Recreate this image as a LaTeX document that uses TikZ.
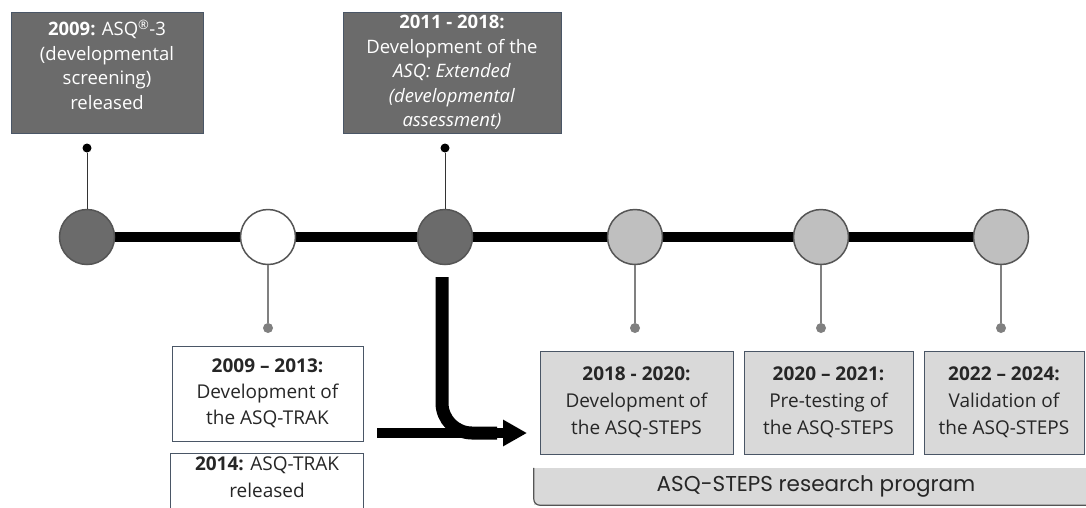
\documentclass[tikz,border=0pt]{standalone}
\usepackage{fontspec}
\setmainfont{Open Sans}
\newfontfamily\poppfont{Poppins}
\usetikzlibrary{arrows.meta,backgrounds,calc}
\definecolor{cDark}{HTML}{6B6B6B}
\definecolor{cEdge}{HTML}{4A5666}
\definecolor{cLight}{HTML}{D9D9D9}
\definecolor{cCirc}{HTML}{BFBFBF}
\definecolor{cPin}{HTML}{808080}
\definecolor{cCircEdge}{HTML}{555555}
\definecolor{cText}{HTML}{262626}
\tikzset{
  darkbox/.style={draw=cEdge, line width=1, fill=cDark, text=white, align=center, inner sep=0pt,
    font=\fontsize{18.5}{24.5}\selectfont},
  whitebox/.style={draw=cEdge, line width=1, fill=white, text=cText, align=center, inner sep=0pt,
    font=\fontsize{19}{26}\selectfont},
  lightbox/.style={draw=cEdge, line width=1, fill=cLight, text=cText, align=center, inner sep=0pt,
    font=\fontsize{19}{27}\selectfont},
  boxtext/.style={align=center, inner sep=0pt},
  circdark/.style={circle, draw=cCircEdge, line width=1.5, fill=cDark, minimum size=55pt, inner sep=0pt},
  circwhite/.style={circle, draw=cCircEdge, line width=1.5, fill=white, minimum size=55pt, inner sep=0pt},
  circlight/.style={circle, draw=cCircEdge, line width=1.5, fill=cCirc, minimum size=55pt, inner sep=0pt},
  topdot/.style={circle, fill=black, minimum size=9pt, inner sep=0pt},
  botdot/.style={circle, fill=cPin, minimum size=10pt, inner sep=0pt},
  topline/.style={draw=black!80, line width=1},
  botline/.style={draw=cPin, line width=2},
}
\begin{document}
\begin{tikzpicture}[x=1pt,y=-1pt]
\clip (0,0) rectangle (1086,507);

% timeline circles
\node[circdark]  (c1) at (87,237) {};
\node[circwhite] (c2) at (268,237) {};
\node[circdark]  (c3) at (445,237) {};
\node[circlight] (c4) at (635,237) {};
\node[circlight] (c5) at (821,237) {};
\node[circlight] (c6) at (1001,237) {};
\begin{scope}[on background layer]
  \draw[line width=10] (c1.center) -- (c6.center);
\end{scope}

% top boxes
\node[darkbox, minimum width=192pt, minimum height=121pt] (t1) at (107,72.5) {};
\node[boxtext, text=white, font=\fontsize{18.5}{24.5}\selectfont] (t1x) at (107,65)
  {\textbf{2009:} ASQ\textsuperscript{\textregistered}-3\\(developmental\\screening)\\released};
\node[darkbox, minimum width=218pt, minimum height=121pt] (t2) at (452,72.5)
  {\textbf{2011 - 2018:}\\Development of the\\\textit{ASQ: Extended}\\\textit{(developmental}\\\textit{assessment)}};

% top pins
\node[topdot] (d1) at (87,148) {};
\node[topdot] (d3) at (445,148) {};
\draw[topline] (d1) -- (c1.north);
\draw[topline] (d3) -- (c3.north);

% bottom pins
\node[botdot] (d2) at (268,328) {};
\node[botdot] (d4) at (635,328) {};
\node[botdot] (d5) at (821,328) {};
\node[botdot] (d6) at (1001,328) {};
\draw[botline] (c2.south) -- (d2);
\draw[botline] (c4.south) -- (d4);
\draw[botline] (c5.south) -- (d5);
\draw[botline] (c6.south) -- (d6);

% bottom left boxes
\node[whitebox, minimum width=191pt, minimum height=95pt] (b2) at (267.5,393.5)
  {\textbf{2009 – 2013:}\\Development of\\the ASQ-TRAK};
\node[whitebox, minimum width=193pt, minimum height=80pt, anchor=north] (b2b) at (267,453) {};
\node[boxtext, text=cText, font=\fontsize{19}{27}\selectfont] (b2bx) at (267,477)
  {\textbf{2014:} ASQ-TRAK\\released};

% bottom right boxes
\node[lightbox, minimum width=193pt, minimum height=103pt] (bA) at (636.5,402.5)
  {\textbf{2018 - 2020:}\\Development of\\the ASQ-STEPS};
\node[lightbox, minimum width=169pt, minimum height=103pt] (bB) at (828.5,402.5)
  {\textbf{2020 – 2021:}\\Pre-testing of\\the ASQ-STEPS};
\node[lightbox, minimum width=160pt, minimum height=103pt] (bC) at (1004,402.5)
  {\textbf{2022 – 2024:}\\Validation of\\the ASQ-STEPS};

% bent arrow
\coordinate (a0) at (442,277);
\coordinate (a1) at (377,433);
\coordinate (tip) at (527,433);
\draw[line width=13, rounded corners=30] (a0) |- ($(tip)+(-30,0)$);
\draw[line width=10, -{Triangle[length=24pt,width=25pt]}] (a1) -- (tip);

% research program bar
\node[fill=cLight, minimum width=564pt, minimum height=37pt, inner sep=0pt,
  font=\poppfont\fontsize{21.5}{24}\selectfont, text=cText] (bar) at (816,486.5)
  {ASQ-STEPS research program};
\draw[cCircEdge, line width=1.2, rounded corners=6] (bar.north west) |- (bar.south east);
\end{tikzpicture}
\end{document}
